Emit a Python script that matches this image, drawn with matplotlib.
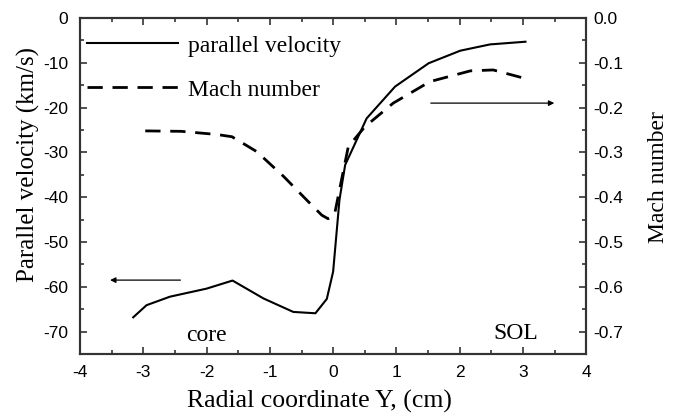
import numpy as np
import matplotlib.pyplot as plt
from matplotlib.ticker import MultipleLocator

# parallel velocity (km/s), left axis
y_vel = [-3.16, -2.95, -2.58, -2.0, -1.59, -1.10, -0.63, -0.28, -0.10, 0.0, 0.10, 0.19,
         0.53, 0.98, 1.51, 2.01, 2.48, 3.04]
v_par = [-66.8, -64.1, -62.2, -60.4, -58.6, -62.6, -65.6, -65.9, -62.7, -56.6, -40.6, -32.8,
         -22.4, -15.3, -10.1, -7.3, -5.9, -5.3]

# Mach number, right axis
y_mach = [-2.97, -2.4, -1.84, -1.6, -1.21, -0.78, -0.42, -0.18, -0.08, 0.02, 0.11, 0.24,
          0.50, 0.95, 1.53, 2.17, 2.53, 3.06]
mach = [-0.252, -0.253, -0.26, -0.265, -0.298, -0.354, -0.406, -0.44, -0.448, -0.44, -0.377, -0.287,
        -0.243, -0.19, -0.142, -0.118, -0.116, -0.136]

plt.rcParams['font.family'] = ['Liberation Sans', 'DejaVu Sans']
plt.rcParams['axes.unicode_minus'] = False
serif = ['Liberation Serif', 'DejaVu Serif']
axc = '#333333'

fig = plt.figure(figsize=(6.73, 4.18), dpi=100)
ax = fig.add_axes([0.119, 0.153, 0.752, 0.804])
ax2 = ax.twinx()

l1, = ax.plot(y_vel, v_par, color='black', lw=1.5)
l2, = ax2.plot(y_mach, mach, color='black', lw=2.0, ls=(0, (5.5, 3.5)))

ax.set_xlim(-4, 4)
ax.set_ylim(-75, 0)
ax2.set_ylim(-0.75, 0)

ax.xaxis.set_major_locator(MultipleLocator(1))
ax.xaxis.set_minor_locator(MultipleLocator(0.5))
ax.yaxis.set_major_locator(MultipleLocator(10))
ax.yaxis.set_minor_locator(MultipleLocator(5))
ax2.yaxis.set_major_locator(MultipleLocator(0.1))
ax2.yaxis.set_minor_locator(MultipleLocator(0.05))
ax2.yaxis.set_major_formatter(plt.FuncFormatter(lambda v, p: '%.1f' % v))

ax.tick_params(axis='x', which='both', direction='in', top=True, colors=axc, labelcolor='black',
               labelsize=12.5, width=1.2, pad=8)
ax.tick_params(axis='y', which='both', direction='in', colors=axc, labelcolor='black',
               labelsize=12.5, width=1.2, pad=8.5)
ax2.tick_params(axis='y', which='both', direction='in', colors=axc, labelcolor='black',
                labelsize=12.5, width=1.2, pad=5)
for a in (ax, ax2):
    a.tick_params(which='major', length=5)
    a.tick_params(which='minor', length=3)
    for s in a.spines.values():
        s.set_color(axc)
        s.set_linewidth(1.5)

ax.set_xlabel('Radial coordinate Y, (cm)', family=serif, fontsize=18.5)
ax.xaxis.set_label_coords(0.472, -0.107)
ax.set_ylabel('Parallel velocity (km/s)', family=serif, fontsize=18)
ax.yaxis.set_label_coords(-0.079, 0.565)
ax2.set_ylabel('Mach number', family=serif, fontsize=17)
ax2.yaxis.set_label_coords(1.1225, 0.527)

leg = ax.legend([l1, l2], ['parallel velocity', 'Mach number'], loc='upper left',
                frameon=False, prop={'family': serif, 'size': 17}, handlelength=3.85,
                handletextpad=0.42, labelspacing=0.95, borderaxespad=0, borderpad=0,
                bbox_to_anchor=(0.0138, 0.949))

ax.annotate('', xy=(-3.57, -58.5), xytext=(-2.37, -58.5),
            arrowprops=dict(arrowstyle='-|>', color='black', lw=0.9, mutation_scale=8))
ax.annotate('', xy=(3.54, -19.0), xytext=(1.50, -19.0),
            arrowprops=dict(arrowstyle='-|>', color='black', lw=0.9, mutation_scale=8))

ax.text(-2.0, -70.8, 'core', family=serif, fontsize=17, ha='center', va='center')
ax.text(2.88, -70.5, 'SOL', family=serif, fontsize=17, ha='center', va='center')

fig.savefig('out.png', dpi=100)
